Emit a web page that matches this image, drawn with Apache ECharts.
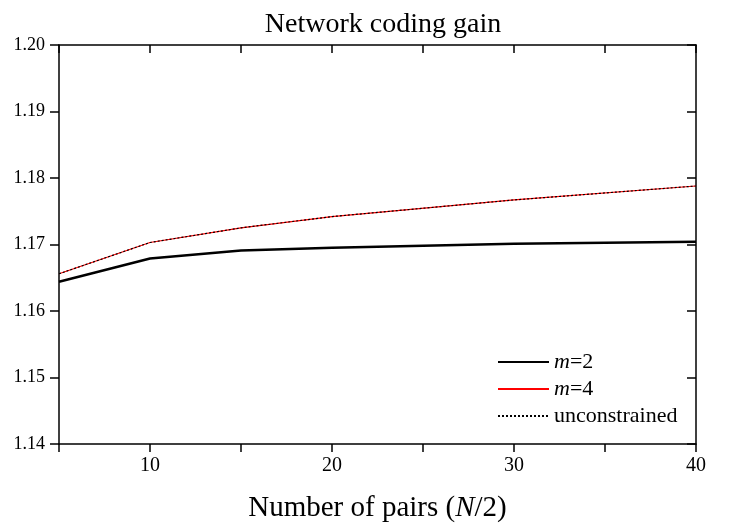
<!DOCTYPE html>
<html>
<head>
<meta charset="utf-8">
<script src="https://cdn.jsdelivr.net/npm/echarts@6/dist/echarts.min.js"></script>
<style>
  html, body { margin: 0; padding: 0; background: #fff; }
  #chart { width: 747px; height: 528px; }
</style>
</head>
<body>
<div id="chart"></div>
<script>
// number of pairs (N/2)
var pairs = [5, 10, 15, 20, 30, 40];
// network coding gain per series
var gainM2 = [1.1644, 1.1679, 1.1691, 1.1695, 1.1701, 1.1704];
var gainM4 = [1.1656, 1.1703, 1.1725, 1.1742, 1.1767, 1.1788];
var gainUnc = [1.1656, 1.1703, 1.1725, 1.1742, 1.1767, 1.1788];
var seriesNames = ['m=2', 'm=4', 'unconstrained'];

var FONT = '"Liberation Serif", "DejaVu Serif", serif';

function pts(ys) {
    return pairs.map(function (x, i) { return [x, ys[i]]; });
}

var chart = echarts.init(document.getElementById('chart'));

var axisLine = { show: true, onZero: false, lineStyle: { color: '#000', width: 1.5 } };
var tickStyle = { color: '#000', width: 1.5 };

var option = {
    backgroundColor: '#fff',
    animation: false,
    title: {
        text: 'Network coding gain',
        left: 378,
        top: 6,
        textAlign: 'center',
        textStyle: { fontFamily: FONT, fontSize: 28, fontWeight: 'normal', color: '#000' }
    },
    grid: { left: 59, right: 51, top: 45, bottom: 83 },
    legend: {
        orient: 'vertical',
        left: 497,
        top: 351,
        padding: 0,
        itemWidth: 51,
        itemHeight: 14,
        itemGap: 5,
        data: seriesNames,
        itemStyle: { opacity: 0 },
        formatter: function (name) {
            if (name.indexOf('m=') === 0) return '{i|m}{n|' + name.slice(1) + '}';
            return '{n|' + name + '}';
        },
        textStyle: {
            fontFamily: FONT, fontSize: 22, color: '#000',
            rich: {
                i: { fontFamily: FONT, fontSize: 22, fontStyle: 'italic', color: '#000' },
                n: { fontFamily: FONT, fontSize: 22, color: '#000' }
            }
        }
    },
    xAxis: [{
        type: 'value',
        min: 5, max: 40, interval: 5,
        position: 'bottom',
        axisLine: axisLine,
        axisTick: { show: true, inside: false, length: 8, lineStyle: tickStyle },
        axisLabel: {
            margin: 12,
            fontFamily: FONT, fontSize: 20, color: '#000',
            formatter: function (v) { return v % 10 === 0 ? String(v) : ''; }
        },
        splitLine: { show: false },
        name: '{t|Number of pairs (}{i|N}{t|/2)}',
        nameLocation: 'middle',
        nameGap: 50,
        nameTextStyle: {
            rich: {
                t: { fontFamily: FONT, fontSize: 29, color: '#000' },
                i: { fontFamily: FONT, fontSize: 29, fontStyle: 'italic', color: '#000' }
            }
        }
    }, {
        type: 'value',
        min: 5, max: 40, interval: 5,
        position: 'top',
        axisLine: axisLine,
        axisTick: { show: true, inside: true, length: 8, lineStyle: tickStyle },
        axisLabel: { show: false },
        splitLine: { show: false }
    }],
    yAxis: [{
        type: 'value',
        min: 1.14, max: 1.20, interval: 0.01,
        position: 'left',
        axisLine: axisLine,
        axisTick: { show: true, inside: false, length: 9, lineStyle: tickStyle },
        axisLabel: {
            margin: 14,
            fontFamily: FONT, fontSize: 18, color: '#000',
            formatter: function (v) { return v.toFixed(2); }
        },
        splitLine: { show: false }
    }, {
        type: 'value',
        min: 1.14, max: 1.20, interval: 0.01,
        position: 'right',
        axisLine: axisLine,
        axisTick: { show: true, inside: true, length: 9, lineStyle: tickStyle },
        axisLabel: { show: false },
        splitLine: { show: false }
    }],
    series: [{
        name: seriesNames[0],
        type: 'line',
        data: pts(gainM2),
        symbol: 'none',
        lineStyle: { color: '#000', width: 2.5 },
        itemStyle: { color: '#000' }
    }, {
        name: seriesNames[1],
        type: 'line',
        data: pts(gainM4),
        symbol: 'none',
        lineStyle: { color: '#ff0000', width: 1.2 },
        itemStyle: { color: '#ff0000' }
    }, {
        name: seriesNames[2],
        type: 'line',
        data: pts(gainUnc),
        symbol: 'none',
        lineStyle: { color: '#000', width: 1.2, type: [2, 2] },
        itemStyle: { color: '#000' }
    }]
};

chart.setOption(option);
</script>
</body>
</html>
